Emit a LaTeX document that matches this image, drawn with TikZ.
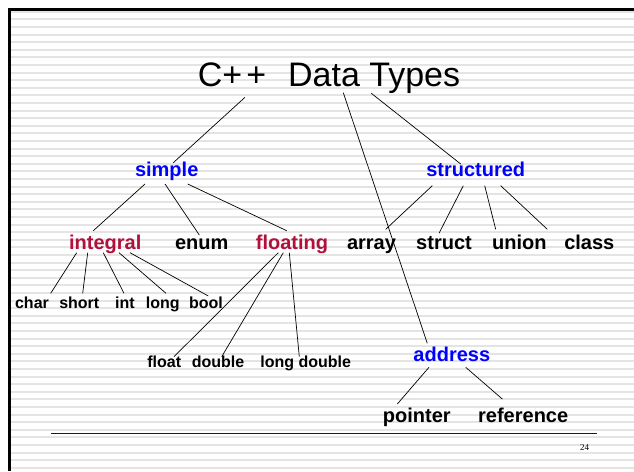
\documentclass[tikz,border=0pt]{standalone}
\usepackage{fontspec}
\setmainfont{Liberation Sans}
\newfontfamily\pagefont{Liberation Serif}
\usepackage{xcolor}
\definecolor{typeblue}{RGB}{0,0,255}
\definecolor{typered}{RGB}{176,16,58}
\definecolor{stripe}{RGB}{228,228,228}

\begin{document}
\begin{tikzpicture}[
          x=1pt, y=-1pt,
          every node/.style={inner sep=0pt, anchor=base},
          heading/.style={font=\fontsize{34}{40}\selectfont},
          kind/.style={font=\fontsize{20}{24}\selectfont\bfseries},
          leaf/.style={font=\fontsize{16}{19}\selectfont\bfseries},
          link/.style={black, line width=0.7pt}
        ]
  \useasboundingbox (0,0) rectangle (634,471);
  % slide background
  \foreach \k in {0,...,60}
    \fill[stripe] (11,{10.7+7.6*\k}) rectangle (634,{12.7+7.6*\k});
  \draw[line width=2.6pt] (634,9.2) -- (9.7,9.2) -- (9.7,471);
  \draw[typeblue, line width=1pt] (51,433.3) -- (597,433.3);
  \node[font=\fontsize{9}{11}\selectfont\pagefont] (page) at (584.7,450.3) {24};

  % type names
  \node[heading] (cpp) at (329,86) {C+\kern4pt+\hspace{22pt}Data Types};
  \node[kind, typeblue] (simple) at (166.7,176.7) {simple};
  \node[kind, typeblue] (structured) at (475.7,176.7) {structured};
  \node[kind, typered] (integral) at (105.3,249.3) {integral};
  \node[kind] (enum) at (201.7,249.3) {enum};
  \node[kind, typered] (floating) at (292,249.3) {floating};
  \node[kind] (array) at (371.5,249.3) {array};
  \node[kind] (struct) at (444,249.3) {struct};
  \node[kind] (union) at (519.3,249.3) {union};
  \node[kind] (class) at (589.3,249.3) {class};
  \node[leaf] (char) at (32,308.3) {char};
  \node[leaf] (short) at (79.3,308.3) {short};
  \node[leaf] (int) at (125,308.3) {int};
  \node[leaf] (long) at (162.7,308.3) {long};
  \node[leaf] (bool) at (206,308.3) {bool};
  \node[leaf] (float) at (164.2,367.3) {float};
  \node[leaf] (double) at (218,367.3) {double};
  \node[leaf] (longdouble) at (305.7,367.3) {long double};
  \node[kind, typeblue] (address) at (451.8,361) {address};
  \node[kind] (pointer) at (416.8,422.3) {pointer};
  \node[kind] (reference) at (523.2,422.3) {reference};

  % links
  \draw[link] ([xshift=-84pt,yshift=-11.3pt]cpp.base) -- ([xshift=6.6pt,yshift=14pt]simple.base);
  \draw[link] ([xshift=42.3pt,yshift=-7.3pt]cpp.base) -- ([xshift=-15pt,yshift=12.7pt]structured.base);
  \draw[link] ([xshift=14.3pt,yshift=-6.7pt]cpp.base) -- ([xshift=-24.5pt,yshift=17.7pt]address.base);

  \draw[link] ([xshift=-21.7pt,yshift=-7.3pt]simple.base) -- ([xshift=-12pt,yshift=18.6pt]integral.base);
  \draw[link] ([xshift=-1.7pt,yshift=-7.3pt]simple.base) -- ([xshift=-2.4pt,yshift=14.3pt]enum.base);
  \draw[link] ([xshift=21pt,yshift=-7.3pt]simple.base) -- ([xshift=-5.3pt,yshift=18.6pt]floating.base);

  \draw[link] ([xshift=-43.4pt,yshift=-9pt]structured.base) -- ([xshift=14.2pt,yshift=20pt]array.base);
  \draw[link] ([xshift=-12.4pt,yshift=-9pt]structured.base) -- ([xshift=-5pt,yshift=16pt]struct.base);
  \draw[link] ([xshift=9pt,yshift=-9pt]structured.base) -- ([xshift=-23.6pt,yshift=20pt]union.base);
  \draw[link] ([xshift=25pt,yshift=-9pt]structured.base) -- ([xshift=-42pt,yshift=20pt]class.base);

  \draw[link] ([xshift=-28.6pt,yshift=-3.4pt]integral.base) -- ([xshift=18.7pt,yshift=15pt]char.base);
  \draw[link] ([xshift=-17.6pt,yshift=-3.4pt]integral.base) -- ([xshift=3.4pt,yshift=15pt]short.base);
  \draw[link] ([xshift=-2pt,yshift=-3.4pt]integral.base) -- ([xshift=-1pt,yshift=15pt]int.base);
  \draw[link] ([xshift=13.7pt,yshift=-3.4pt]integral.base) -- ([xshift=3.3pt,yshift=15pt]long.base);
  \draw[link] ([xshift=24.7pt,yshift=-3.4pt]integral.base) -- ([xshift=2.3pt,yshift=12.3pt]bool.base);

  \draw[link] ([xshift=-13.7pt,yshift=-3.4pt]floating.base) -- ([xshift=9.8pt,yshift=10.6pt]float.base);
  \draw[link] ([xshift=-8.7pt,yshift=-3.4pt]floating.base) -- ([xshift=3.7pt,yshift=10.6pt]double.base);
  \draw[link] ([xshift=-2.7pt,yshift=-3.4pt]floating.base) -- ([xshift=-6.4pt,yshift=10.6pt]longdouble.base);

  \draw[link] ([xshift=-22.8pt,yshift=-6.3pt]address.base) -- ([xshift=-19.5pt,yshift=18.3pt]pointer.base);
  \draw[link] ([xshift=13.9pt,yshift=-6.3pt]address.base) -- ([xshift=-20.9pt,yshift=23.3pt]reference.base);
\end{tikzpicture}
\end{document}
